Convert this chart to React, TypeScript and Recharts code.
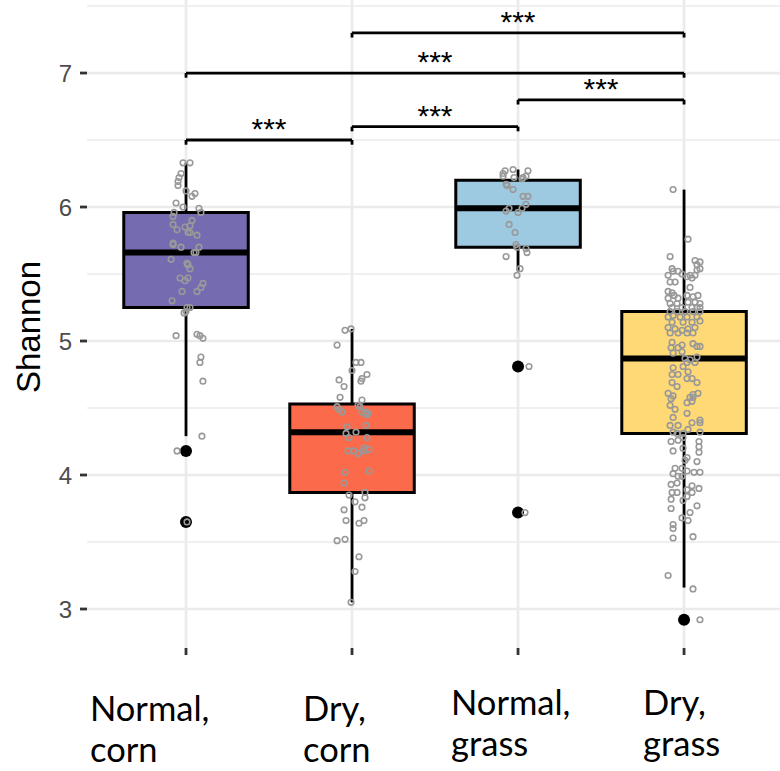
import React from 'react';
import {
  ComposedChart, XAxis, YAxis, CartesianGrid, Scatter, ReferenceArea, ReferenceLine, Label,
} from 'recharts';

// ---- categories ----
const categoryIndex = [1, 2, 3, 4];
const labelLine1 = ['Normal,', 'Dry,', 'Normal,', 'Dry,'];
const labelLine2 = ['corn', 'corn', 'grass', 'grass'];

// ---- box statistics ----
const q1 = [5.25, 3.87, 5.70, 4.31];
const median = [5.66, 4.32, 5.99, 4.87];
const q3 = [5.96, 4.53, 6.20, 5.22];
const whiskerLow = [4.29, 3.05, 5.52, 3.16];
const whiskerHigh = [6.33, 5.09, 6.28, 6.13];
const outliers: number[][] = [[4.18, 3.65], [], [4.81, 3.72], [2.92]];
const boxColors = ['#756BB1', '#FB6A4A', '#9ECAE1', '#FED976'];

// ---- ticks ----
const yMajorTicks = [3, 4, 5, 6, 7];
const yMinorTicks = [3.5, 4.5, 5.5, 6.5, 7.5];

// ---- significance brackets ----
const bracketFrom = [1, 2, 3, 1, 2];
const bracketTo = [2, 3, 4, 4, 4];
const bracketY = [6.5, 6.6, 6.8, 7.0, 7.3];
const bracketLabel = ['***', '***', '***', '***', '***'];

// ---- jittered observations: [jitter offset, Shannon] ----
const normalCornPoints: [number, number][] = [
  [-0.018, 6.33], [0.024, 6.33], [-0.03, 6.25], [-0.042, 6.22], [-0.048, 6.19], [-0.048, 6.16],
  [0.0, 6.12], [0.054, 6.1], [0.036, 6.08], [-0.06, 6.03], [-0.018, 6.0], [0.078, 5.99],
  [0.09, 5.96], [-0.072, 5.96], [-0.078, 5.93], [0.036, 5.9], [-0.078, 5.87], [-0.006, 5.85],
  [0.024, 5.86], [-0.054, 5.83], [0.012, 5.81], [0.024, 5.81], [0.066, 5.79], [-0.078, 5.73],
  [-0.078, 5.72], [-0.03, 5.7], [0.078, 5.7], [0.06, 5.66], [0.048, 5.66], [-0.09, 5.61],
  [0.006, 5.58], [0.012, 5.57], [0.024, 5.54], [-0.036, 5.47], [0.012, 5.47], [-0.006, 5.45],
  [0.102, 5.43], [0.09, 5.4], [0.066, 5.37], [-0.024, 5.37], [-0.084, 5.3], [0.006, 5.25],
  [0.024, 5.25], [0.0, 5.22], [-0.012, 5.21], [-0.06, 5.04], [0.066, 5.05], [0.084, 5.04],
  [0.102, 5.02], [0.09, 4.88], [0.084, 4.84], [0.102, 4.7], [0.096, 4.29], [-0.054, 4.18],
  [0.006, 3.65],
];
const dryCornPoints: [number, number][] = [
  [-0.006, 5.09], [-0.042, 5.08], [-0.09, 4.97], [0.024, 4.84], [0.054, 4.84], [0.0, 4.78],
  [0.09, 4.75], [0.06, 4.72], [0.054, 4.7], [-0.078, 4.71], [-0.048, 4.66], [-0.072, 4.58],
  [0.06, 4.56], [-0.09, 4.51], [-0.078, 4.49], [-0.06, 4.47], [0.036, 4.52], [0.048, 4.51],
  [0.06, 4.47], [0.084, 4.47], [0.096, 4.46], [0.09, 4.45], [-0.03, 4.36], [-0.036, 4.31],
  [-0.018, 4.28], [0.024, 4.32], [0.084, 4.37], [0.09, 4.28], [-0.024, 4.18], [0.012, 4.18],
  [0.036, 4.16], [0.072, 4.2], [0.072, 4.18], [0.102, 4.19], [-0.042, 4.02], [0.102, 4.03],
  [-0.048, 3.94], [-0.018, 3.85], [0.078, 3.87], [0.078, 3.83], [0.018, 3.8], [0.06, 3.76],
  [-0.048, 3.74], [-0.036, 3.66], [0.042, 3.64], [0.072, 3.66], [-0.09, 3.51], [-0.042, 3.52],
  [0.042, 3.39], [0.018, 3.28], [-0.006, 3.05],
];
const normalGrassPoints: [number, number][] = [
  [-0.03, 6.28], [-0.078, 6.27], [0.06, 6.27], [-0.09, 6.25], [-0.09, 6.23], [-0.024, 6.22],
  [0.03, 6.22], [0.048, 6.23], [0.024, 6.21], [-0.072, 6.17], [-0.066, 6.16], [-0.03, 6.13],
  [0.03, 6.08], [0.06, 6.08], [0.048, 6.02], [0.024, 5.99], [-0.054, 5.99], [-0.072, 5.97],
  [0.0, 5.96], [-0.054, 5.87], [-0.018, 5.81], [-0.012, 5.72], [-0.006, 5.7], [0.048, 5.69],
  [0.054, 5.66], [-0.072, 5.63], [0.012, 5.54], [-0.006, 5.49], [0.066, 4.81], [0.042, 3.72],
];
const dryGrassPoints: [number, number][] = [
  [-0.066, 6.13], [0.024, 5.76], [-0.084, 5.63], [0.066, 5.6], [0.096, 5.59], [0.078, 5.57],
  [-0.072, 5.54], [-0.066, 5.52], [-0.036, 5.52], [0.096, 5.54], [0.078, 5.53], [-0.096, 5.49],
  [-0.012, 5.5], [0.018, 5.48], [0.036, 5.49], [0.066, 5.49], [0.048, 5.47], [-0.084, 5.44],
  [-0.054, 5.44], [0.036, 5.4], [-0.096, 5.37], [-0.072, 5.36], [-0.096, 5.32], [-0.06, 5.34],
  [-0.036, 5.32], [0.018, 5.34], [0.054, 5.33], [0.084, 5.34], [-0.084, 5.28], [-0.042, 5.28],
  [0.024, 5.29], [0.066, 5.29], [0.096, 5.28], [-0.072, 5.25], [-0.012, 5.25], [0.048, 5.25],
  [0.078, 5.25], [0.096, 5.25], [-0.084, 5.22], [-0.042, 5.22], [0.006, 5.22], [0.054, 5.22],
  [0.096, 5.22], [-0.096, 5.18], [-0.066, 5.19], [-0.024, 5.18], [0.018, 5.18], [0.078, 5.18],
  [-0.072, 5.14], [-0.006, 5.14], [0.048, 5.14], [0.096, 5.15], [-0.096, 5.1], [-0.054, 5.09],
  [-0.012, 5.08], [0.024, 5.09], [0.066, 5.1], [-0.084, 5.06], [-0.036, 5.06], [0.018, 5.06],
  [0.054, 5.06], [-0.072, 4.99], [-0.012, 4.97], [0.054, 4.98], [0.096, 4.96], [-0.078, 4.95],
  [-0.036, 4.95], [0.078, 4.96], [-0.066, 4.91], [-0.012, 4.92], [0.006, 4.87], [0.036, 4.86],
  [0.078, 4.88], [0.018, 4.84], [0.066, 4.84], [-0.066, 4.8], [-0.006, 4.81], [-0.072, 4.75],
  [-0.036, 4.75], [0.024, 4.77], [-0.072, 4.69], [-0.042, 4.66], [0.018, 4.72], [0.048, 4.72],
  [0.078, 4.69], [-0.096, 4.61], [-0.066, 4.59], [0.036, 4.58], [0.054, 4.6], [0.084, 4.61],
  [-0.078, 4.57], [0.054, 4.58], [-0.084, 4.52], [-0.054, 4.49], [0.018, 4.54], [0.048, 4.55],
  [0.018, 4.46], [-0.066, 4.43], [-0.084, 4.37], [-0.036, 4.37], [0.048, 4.39], [0.096, 4.41],
  [0.096, 4.39], [-0.066, 4.32], [-0.042, 4.31], [0.024, 4.34], [-0.006, 4.31], [0.096, 4.32],
  [-0.078, 4.25], [-0.036, 4.26], [-0.006, 4.28], [0.09, 4.25], [-0.066, 4.18], [-0.006, 4.2],
  [0.09, 4.21], [0.09, 4.17], [0.018, 4.13], [0.006, 4.11], [0.078, 4.1], [-0.054, 4.05],
  [-0.012, 4.05], [0.018, 4.03], [0.06, 4.02], [0.096, 4.02], [-0.066, 4.01], [-0.036, 3.99],
  [-0.012, 3.99], [-0.078, 3.93], [-0.042, 3.94], [0.048, 3.92], [0.018, 3.89], [0.048, 3.87],
  [0.09, 3.9], [-0.072, 3.87], [-0.042, 3.87], [-0.078, 3.82], [-0.006, 3.81], [0.018, 3.84],
  [0.078, 3.77], [-0.078, 3.75], [0.036, 3.72], [-0.012, 3.68], [0.024, 3.66], [-0.066, 3.63],
  [-0.066, 3.6], [-0.066, 3.53], [0.054, 3.54], [-0.096, 3.25], [0.054, 3.15], [0.096, 2.92],
];
const groupPoints = [normalCornPoints, dryCornPoints, normalGrassPoints, dryGrassPoints];

// ---- layout / style constants ----
const boxHalfWidth = 0.375;
const tipLength = 0.035;
const labelShiftX = [-96, -49, -67, -41];
const labelShiftY = [64, 64, 58, 58];
const labelFont = "Lato, 'Noto Sans', sans-serif";
const axisFont = "'Liberation Sans', Arial, sans-serif";

const jitterData = groupPoints.flatMap((pts, gi) =>
  pts.map(([j, v]) => ({ x: categoryIndex[gi] + j, y: v }))
);
const outlierData = outliers.flatMap((vals, gi) =>
  vals.map((v) => ({ x: categoryIndex[gi], y: v }))
);

const HollowDot = (props: any) => {
  const { cx, cy } = props;
  if (cx == null || cy == null) return null;
  return <circle cx={cx} cy={cy} r={2.8} fill="none" stroke="#999999" strokeWidth={1.6} />;
};
const OutlierDot = (props: any) => {
  const { cx, cy } = props;
  if (cx == null || cy == null) return null;
  return <circle cx={cx} cy={cy} r={6} fill="#000" />;
};

const XTick = (props: any) => {
  const { x, y, index } = props;
  const i = index ?? 0;
  return (
    <g>
      <text x={x + labelShiftX[i]} y={y + labelShiftY[i]} textAnchor="start"
        fontFamily={labelFont} fontSize={34.5} fill="#000">
        {labelLine1[i]}
      </text>
      <text x={x + labelShiftX[i]} y={y + labelShiftY[i] + 41} textAnchor="start"
        fontFamily={labelFont} fontSize={34.5} fill="#000">
        {labelLine2[i]}
      </text>
    </g>
  );
};

const YTitle = (props: any) => {
  const vb = props.viewBox || {};
  const cy = (vb.y ?? 0) + (vb.height ?? 0) / 2 + 3;
  const cx = 28;
  return (
    <text x={cx} y={cy} transform={`rotate(-90, ${cx}, ${cy})`} textAnchor="middle"
      dominantBaseline="central" fontFamily={axisFont} fontSize={33} fill="#000">
      Shannon
    </text>
  );
};

export default function App() {
  return (
    <div style={{ position: 'absolute', left: 0, top: 0, width: 780, height: 771, overflow: 'hidden', background: '#fff' }}>
      <ComposedChart width={780} height={771} margin={{ top: 0, right: 0, bottom: 0, left: 0 }}>
        <CartesianGrid stroke="#EBEBEB" strokeWidth={1.4} vertical={false} horizontalValues={yMinorTicks} />
        <CartesianGrid stroke="#EBEBEB" strokeWidth={2.7} horizontalValues={yMajorTicks} verticalValues={categoryIndex} />
        <XAxis
          type="number"
          dataKey="x"
          domain={[0.4036, 4.578]}
          ticks={categoryIndex}
          interval={0}
          allowDataOverflow
          axisLine={false}
          tickLine={{ stroke: '#333333', strokeWidth: 2.8 }}
          tickSize={7}
          height={123}
          tick={<XTick />}
        />
        <YAxis
          type="number"
          dataKey="y"
          domain={[2.709, 7.545]}
          ticks={yMajorTicks}
          interval={0}
          allowDataOverflow
          axisLine={false}
          tickLine={{ stroke: '#333333', strokeWidth: 2.8 }}
          tickSize={7}
          tickMargin={8}
          width={87}
          tick={{ fill: '#4D4D4D', fontSize: 24, fontFamily: axisFont }}
        >
          <Label content={<YTitle />} />
        </YAxis>
        {categoryIndex.map((c, i) => (
          <ReferenceLine key={`wl${c}`} segment={[{ x: c, y: whiskerLow[i] }, { x: c, y: q1[i] }]} stroke="#000" strokeWidth={2.8} />
        ))}
        {categoryIndex.map((c, i) => (
          <ReferenceLine key={`wh${c}`} segment={[{ x: c, y: q3[i] }, { x: c, y: whiskerHigh[i] }]} stroke="#000" strokeWidth={2.8} />
        ))}
        {categoryIndex.map((c, i) => (
          <ReferenceArea key={`b${c}`} x1={c - boxHalfWidth} x2={c + boxHalfWidth} y1={q1[i]} y2={q3[i]}
            fill={boxColors[i]} fillOpacity={1} stroke="#000" strokeWidth={3} />
        ))}
        {categoryIndex.map((c, i) => (
          <ReferenceLine key={`md${c}`} segment={[{ x: c - boxHalfWidth, y: median[i] }, { x: c + boxHalfWidth, y: median[i] }]}
            stroke="#000" strokeWidth={6} />
        ))}
        <Scatter data={outlierData} shape={<OutlierDot />} isAnimationActive={false} />
        <Scatter data={jitterData} shape={<HollowDot />} isAnimationActive={false} />
        {bracketY.map((v, i) => (
          <ReferenceLine key={`bt${i}`} segment={[{ x: bracketFrom[i], y: v }, { x: bracketTo[i], y: v }]} stroke="#000" strokeWidth={2.8}>
            <Label value={bracketLabel[i]} position="top" offset={1} fontSize={30} fill="#000" fontFamily={axisFont} />
          </ReferenceLine>
        ))}
        {bracketY.map((v, i) => (
          <ReferenceLine key={`tl${i}`} segment={[{ x: bracketFrom[i], y: v }, { x: bracketFrom[i], y: v - tipLength }]} stroke="#000" strokeWidth={2.8} />
        ))}
        {bracketY.map((v, i) => (
          <ReferenceLine key={`tr${i}`} segment={[{ x: bracketTo[i], y: v }, { x: bracketTo[i], y: v - tipLength }]} stroke="#000" strokeWidth={2.8} />
        ))}
      </ComposedChart>
    </div>
  );
}
